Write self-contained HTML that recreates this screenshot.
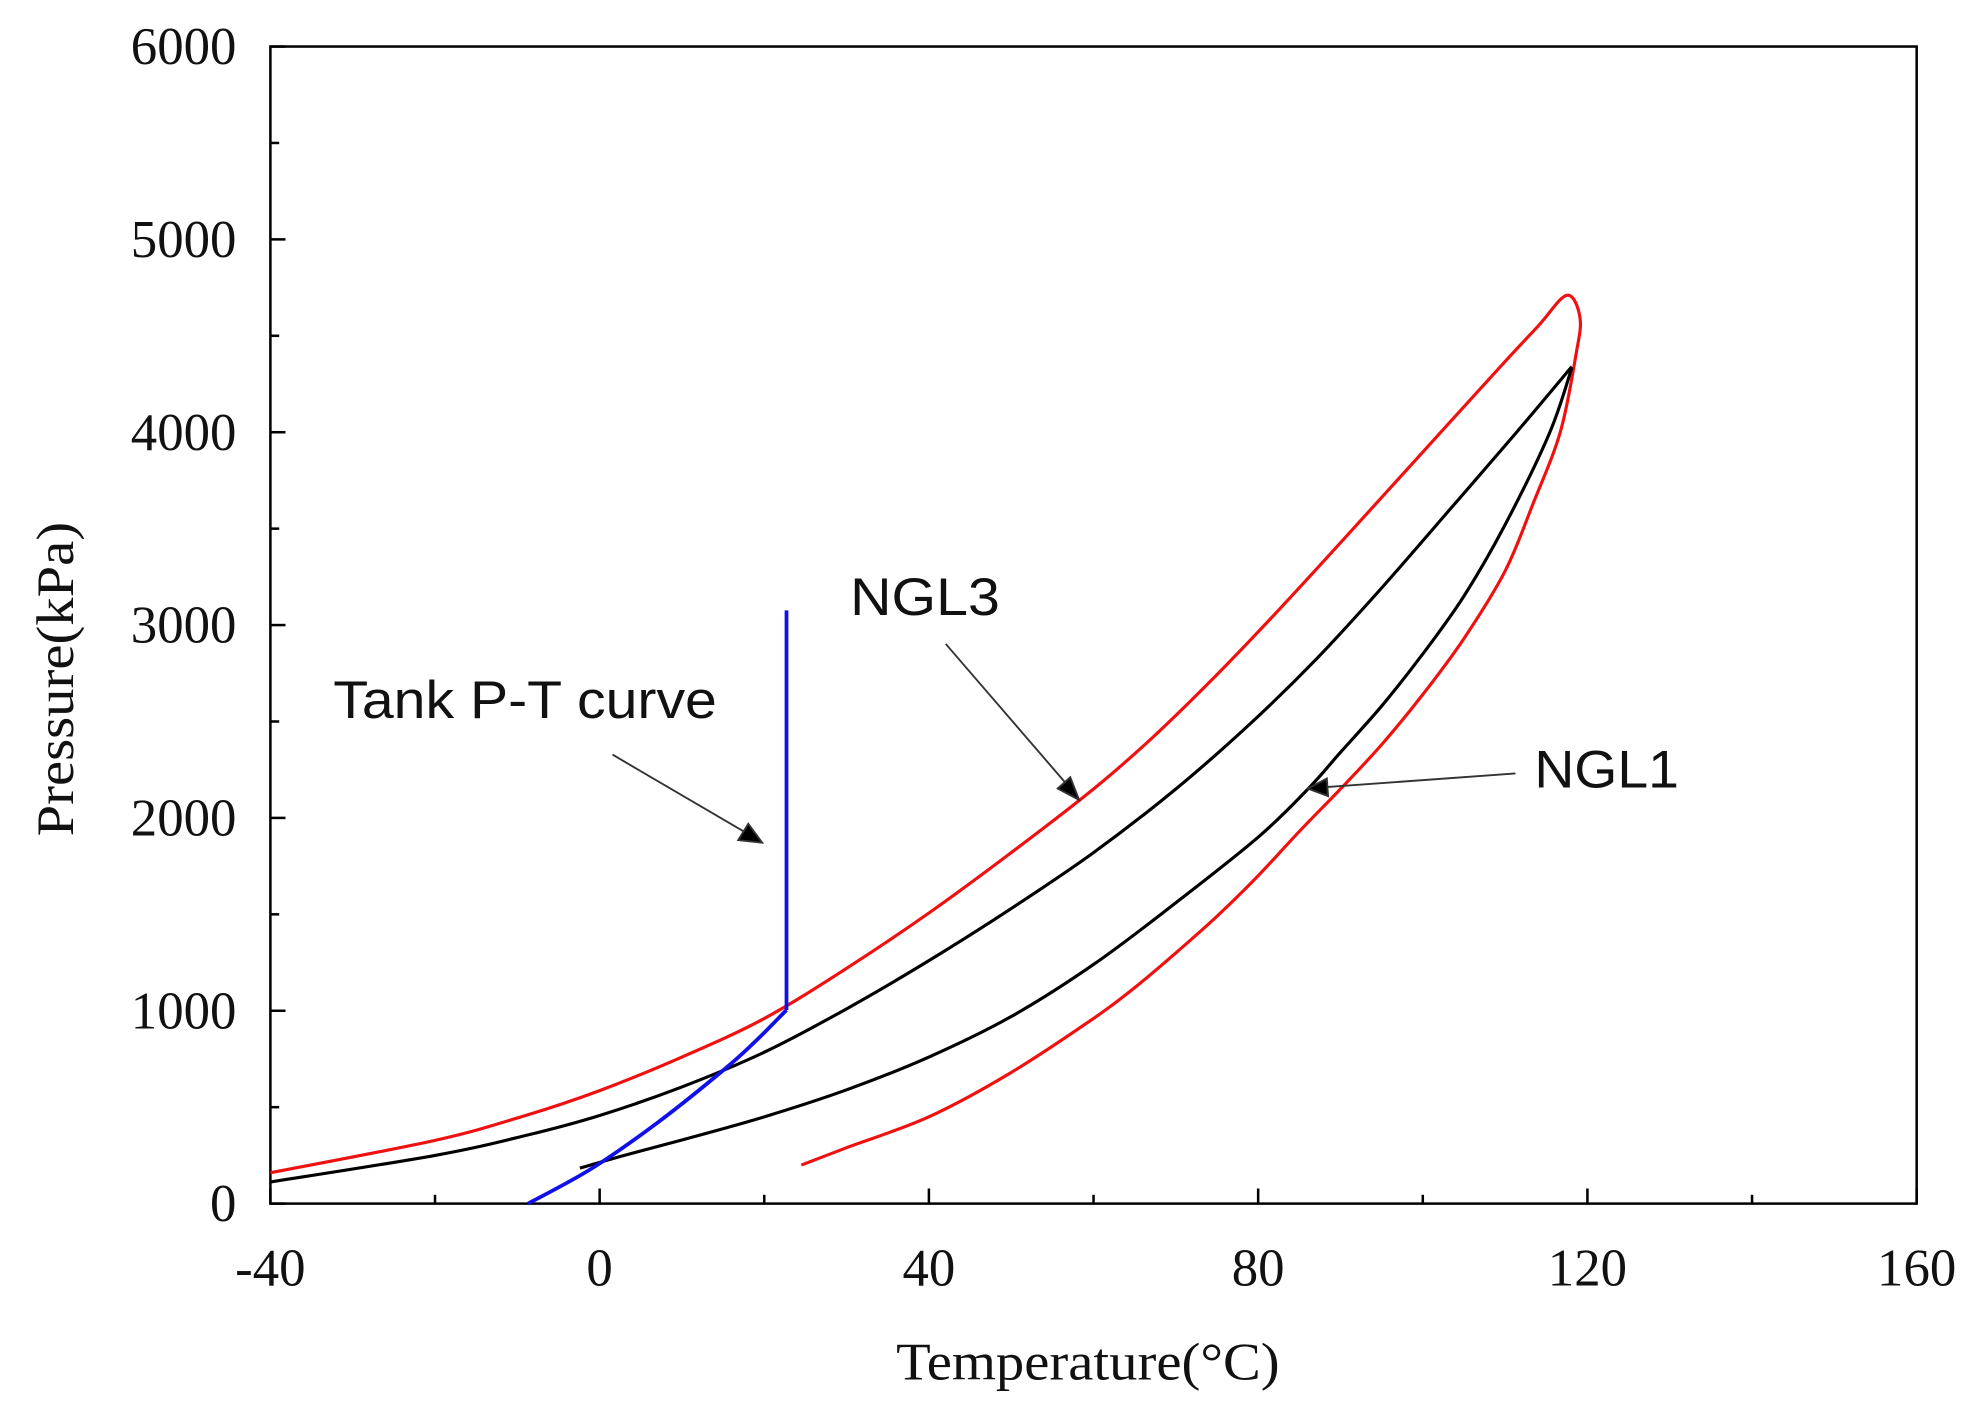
<!DOCTYPE html>
<html><head><meta charset="utf-8"><style>
html,body{margin:0;padding:0;background:#fff}
svg{display:block}
.tk{font-family:"Liberation Serif",serif;font-size:42px;fill:#111}
.ann{font-family:"Liberation Sans",sans-serif;font-size:42px;fill:#111}
</style></head><body>
<svg id="chart" width="1972" height="1412" viewBox="0 0 1568 1122.7" preserveAspectRatio="none" xmlns="http://www.w3.org/2000/svg">
<g id="axes"></g>
<g id="series"></g>
<text class="tk" x="865" y="1097" text-anchor="middle" textLength="305" lengthAdjust="spacingAndGlyphs">Temperature(°C)</text>
<text class="tk" transform="translate(58,540) rotate(-90)" text-anchor="middle" textLength="250" lengthAdjust="spacingAndGlyphs">Pressure(kPa)</text>
<text class="ann" x="265" y="571" textLength="305" lengthAdjust="spacingAndGlyphs">Tank P-T curve</text>
<text class="ann" x="676" y="489" textLength="119" lengthAdjust="spacingAndGlyphs">NGL3</text>
<text class="ann" x="1220" y="626" textLength="115" lengthAdjust="spacingAndGlyphs">NGL1</text>
<g stroke="#333" stroke-width="1.5" fill="#000">
<line x1="487" y1="600" x2="598" y2="665"/><polygon points="606,670 587,668 595,655"/>
<line x1="752" y1="512" x2="852" y2="628"/><polygon points="858,636 841,627 851,618"/>
<line x1="1205" y1="615" x2="1052" y2="626"/><polygon points="1040,627 1055,619 1056,633"/>
</g>
</svg>
<script>
const xTicks=[-40,0,40,80,120,160];
const yTicks=[0,1000,2000,3000,4000,5000,6000];
const ngl3T=[-40,-20,-9,0,10,20,30,40,50,60,67,74,81,89,99,109,114,117.5,119.1,118.6,116.7,113.4,110,105,100,95,90,85,80,75,70,65,60,50,40,30,24.5];
const ngl3P=[160,328,457,586,760,960,1220,1507,1820,2150,2410,2700,3010,3380,3850,4320,4550,4710,4593,4400,4000,3630,3280,2930,2640,2380,2150,1930,1700,1490,1300,1120,960,680,450,290,200];
const nglOuterT=[-40,-20,-9,0,10,20,30,40,50,60,70,79,87.1,95.2,103.3,111.4,118.1];
const nglOuterP=[112,250,353,457,605,785,1010,1260,1530,1820,2150,2487,2825,3202,3600,4000,4340];
const nglInnerT=[118.1,115.4,110,105,100,95,90,86.1,80,70,60,50,40,30,20,10,3,-2.4];
const nglInnerP=[4333,3996,3520,3150,2850,2580,2340,2152,1900,1560,1240,970,760,590,450,330,250,184];
const tankT=[-8.7,-1,7.1,15.2,19.2,22.7,22.7];
const tankP=[0,181,422,698,853,1004,3076];
const X=t=>215+(t+40)*(1524-215)/200;
const Y=p=>957-p*(957-37)/6000;
const NS="http://www.w3.org/2000/svg";
const axes=document.getElementById('axes'),ser=document.getElementById('series');
function mk(tag,at,parent){const e=document.createElementNS(NS,tag);for(const k in at)e.setAttribute(k,at[k]);parent.appendChild(e);return e;}
const frame=mk('rect',{x:215,y:37,width:1309,height:920,fill:'none',stroke:'#000','stroke-width':2},axes);


for(let t=-40;t<=160;t+=20){const maj=t%40===0;const l=mk('line',{x1:X(t),x2:X(t),y1:957,y2:957-(maj?12:7),stroke:'#000','stroke-width':2},axes);

}
for(let p=0;p<=6000;p+=500){const maj=p%1000===0;const l=mk('line',{x1:215,x2:215+(maj?12:7),y1:Y(p),y2:Y(p),stroke:'#000','stroke-width':2},axes);

}
xTicks.forEach(t=>{const e=mk('text',{x:X(t),y:1022,'text-anchor':'middle',class:'tk'},axes);e.textContent=t;

});
yTicks.forEach(p=>{const e=mk('text',{x:188,y:Y(p)+14,'text-anchor':'end',class:'tk'},axes);e.textContent=p;

});
function smooth(ts,ps){const pts=ts.map((t,i)=>[X(t),Y(ps[i])]);let d='M'+pts[0].join(',');
for(let i=0;i<pts.length-1;i++){const p0=pts[i-1]||pts[i],p1=pts[i],p2=pts[i+1],p3=pts[i+2]||p2;
const c1=[p1[0]+(p2[0]-p0[0])/6,p1[1]+(p2[1]-p0[1])/6],c2=[p2[0]-(p3[0]-p1[0])/6,p2[1]-(p3[1]-p1[1])/6];
d+=' C'+c1.join(',')+' '+c2.join(',')+' '+p2.join(',');}return d;}
function line(ts,ps,color,name,w,sm){const d=sm?smooth(ts,ps):'M'+ts.map((t,i)=>X(t)+','+Y(ps[i])).join(' L');
const e=mk('path',{d:d,fill:'none',stroke:color,'stroke-width':w,'stroke-linejoin':'round'},ser);

}
line(ngl3T,ngl3P,'#f01010','ngl3-envelope',2.5,true);
line(nglOuterT,nglOuterP,'#000','ngl1-dew-curve',2.5,true);
line(nglInnerT,nglInnerP,'#000','ngl1-bubble-curve',2.5,true);
line(tankT.slice(0,6),tankP.slice(0,6),'#1010e8','tank-pt-curve',3,true);
line(tankT.slice(5),tankP.slice(5),'#1010e8','tank-pt-vertical',3,false);
</script>
</body></html>
